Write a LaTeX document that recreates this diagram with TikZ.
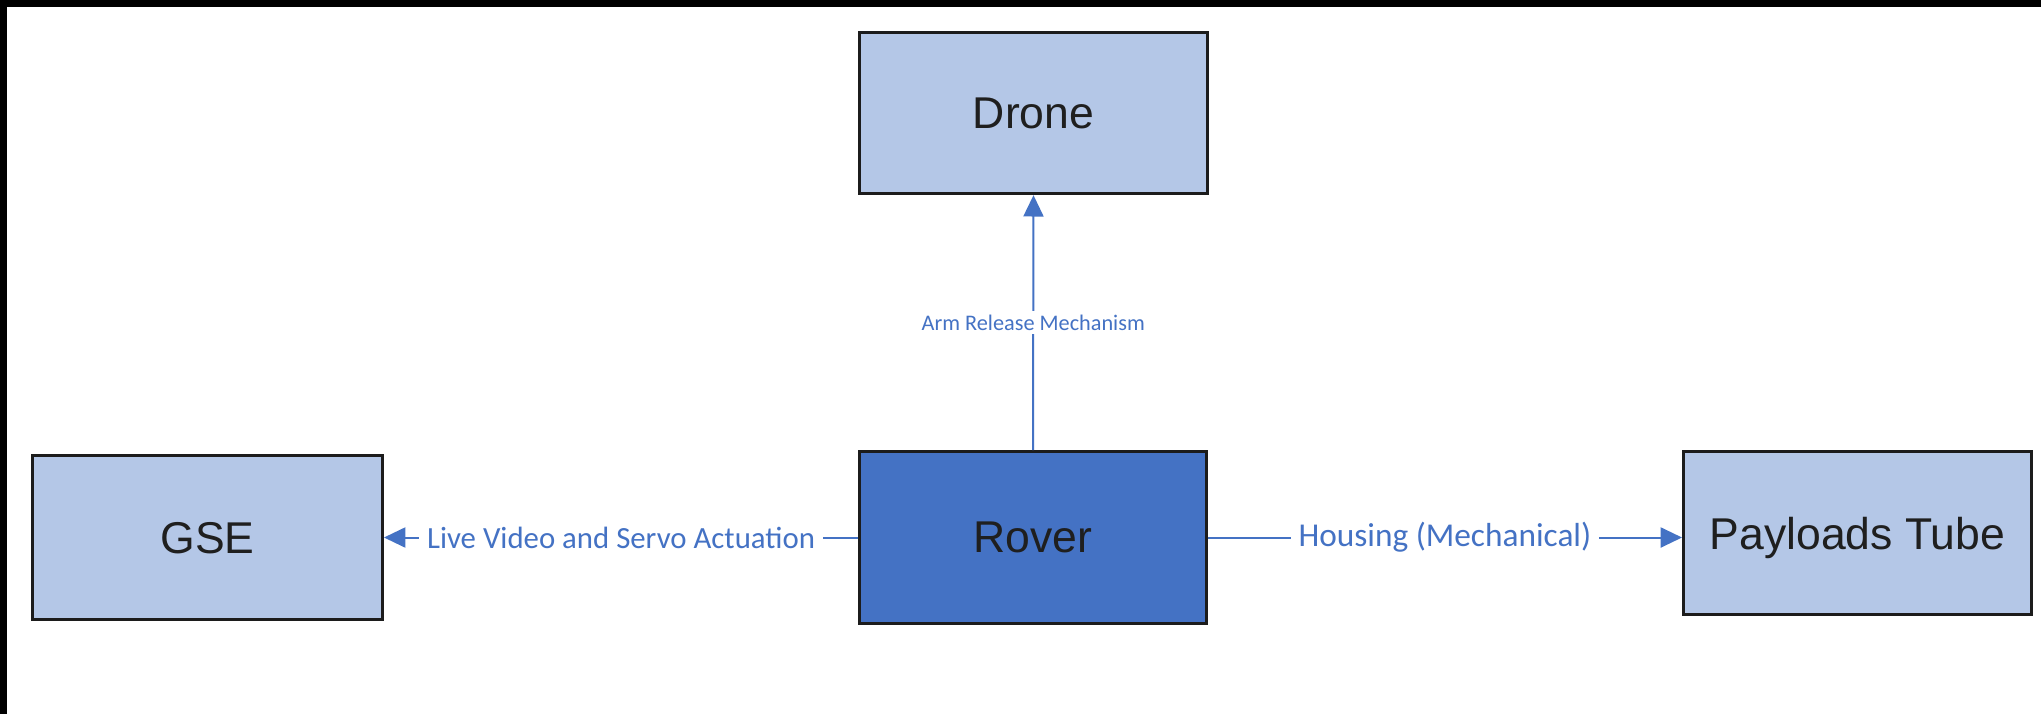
\documentclass[tikz,border=0pt]{standalone}
\usepackage{fontspec}
\setmainfont{Liberation Sans}
\newfontfamily\labelfont{Carlito}
\usetikzlibrary{arrows.meta}

\definecolor{boxlight}{HTML}{B4C7E7}
\definecolor{boxdark}{HTML}{4472C4}
\definecolor{linkblue}{HTML}{4472C4}
\definecolor{edge}{HTML}{1C1C1C}

\tikzset{
  block/.style={draw=edge, line width=2.25pt, fill=boxlight, inner sep=0pt,
    text depth=0pt, font=\fontsize{33.4}{40}\selectfont, text=black!88},
  link/.style={draw=linkblue, line width=1.5pt,
    -{Triangle[length=16pt, width=15pt]}},
  linklabel/.style={fill=white, text=linkblue, inner xsep=6pt, inner ysep=4pt}
}

\begin{document}
\begin{tikzpicture}[x=0.75pt, y=-0.75pt]
  \useasboundingbox (0,0) rectangle (2041,714);
  % page background and dark frame edges
  \fill[white] (0,0) rectangle (2041,714);
  \fill[black] (0,0) rectangle (2041,7);
  \fill[black] (0,0) rectangle (7,714);

  % blocks
  \node[block, minimum width=261pt, minimum height=121pt] (drone) at (1033.5,113) {Drone};
  \node[block, fill=boxdark, minimum width=260pt, minimum height=129pt] (rover) at (1033,537.5) {Rover};
  \node[block, minimum width=262.5pt, minimum height=123pt] (gse) at (207.5,537.5) {GSE};
  \node[block, minimum width=261pt, minimum height=122pt] (tube) at (1857.5,533) {Payloads Tube};

  % interfaces
  \draw[link] (rover.west) -- node[linklabel, font=\labelfont\fontsize{23.1}{28}\selectfont] (lv) {Live Video and Servo Actuation} (rover.west -| gse.east);
  \draw[link] (rover.east) -- node[linklabel, font=\labelfont\fontsize{25}{30}\selectfont] (hs) {Housing (Mechanical)} (rover.east -| tube.west);
  \draw[link] (rover.north) -- node[linklabel, inner xsep=2pt, inner ysep=3pt, font=\labelfont\fontsize{16.7}{20}\selectfont] (arm) {Arm Release Mechanism} (drone.south);
\end{tikzpicture}
\end{document}
